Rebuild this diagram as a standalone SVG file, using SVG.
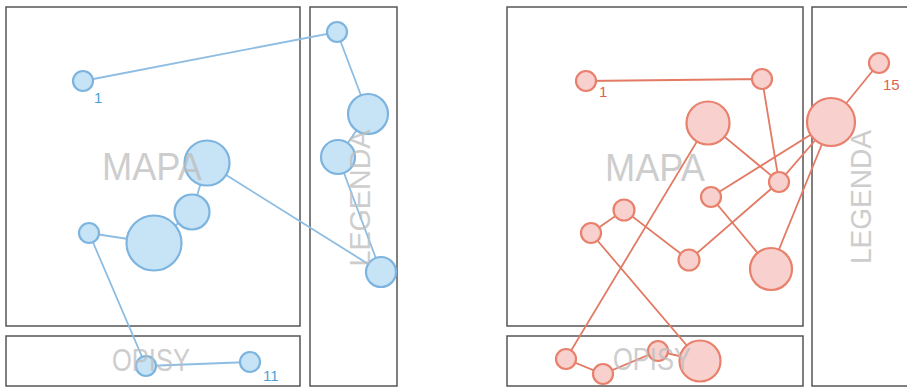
<svg xmlns="http://www.w3.org/2000/svg" width="907" height="387" viewBox="0 0 907 387">
<style>
.panel{fill:none;stroke:#555;stroke-width:1.5}
.lbl{font-family:"Liberation Sans",Arial,sans-serif;fill:#bdbdbd;opacity:0.75;text-anchor:middle}
.bl{stroke:#8dbde3;stroke-width:1.8;fill:none}
.rl{stroke:#e27a64;stroke-width:1.8;fill:none}
.bn{fill:#c6e4f5;stroke:#7db4df;stroke-width:2.2}
.rn{fill:#f8d0cd;stroke:#e8806c;stroke-width:2.2}
.bt{font-family:"Liberation Sans",Arial,sans-serif;font-size:15px;fill:#4a9fd8}
.rt{font-family:"Liberation Sans",Arial,sans-serif;font-size:15px;fill:#d9654c}
</style>
<rect width="907" height="387" fill="#fff"/>
<g id="panels">
<rect class="panel" x="6" y="7" width="294" height="319"/>
<rect class="panel" x="6" y="336" width="294" height="50"/>
<rect class="panel" x="310" y="7" width="87" height="379"/>
<rect class="panel" x="507" y="7" width="296" height="319"/>
<rect class="panel" x="507" y="336" width="296" height="50"/>
<rect class="panel" x="812" y="7" width="110" height="379"/>
</g>
<g id="connectors">
<polyline class="bl" points="83,81 337,32 368,114 338,157 381,272 207,163 192,212 154,243 89,233 146,366 250,362"/>
<polyline class="rl" points="586,81 762,79 779,182 708,123 566,359 603,374 658,351 700,361 591,233 624,210 689,260 779,182 831,122"/>
<line class="rl" x1="711" y1="197" x2="831" y2="122"/>
<line class="rl" x1="711" y1="197" x2="771" y2="269"/>
<line class="rl" x1="771" y1="269" x2="831" y2="122"/>
<line class="rl" x1="831" y1="122" x2="879" y2="63"/>
</g>
<g id="blue-nodes">
<g id="b1"><circle class="bn" cx="83" cy="81" r="10"/></g>
<g id="b2"><circle class="bn" cx="337" cy="32" r="10"/></g>
<g id="b3"><circle class="bn" cx="368" cy="114" r="20"/></g>
<g id="b4"><circle class="bn" cx="338" cy="157" r="17"/></g>
<g id="b5"><circle class="bn" cx="381" cy="272" r="15"/></g>
<g id="b6"><circle class="bn" cx="207" cy="163" r="22.5"/></g>
<g id="b7"><circle class="bn" cx="192" cy="212" r="17.5"/></g>
<g id="b8"><circle class="bn" cx="154" cy="243" r="27.5"/></g>
<g id="b9"><circle class="bn" cx="89" cy="233" r="10"/></g>
<g id="b10"><circle class="bn" cx="146" cy="366" r="10"/></g>
<g id="b11"><circle class="bn" cx="250" cy="362" r="10"/></g>
</g>
<g id="red-nodes">
<g id="r1"><circle class="rn" cx="586" cy="81" r="10"/></g>
<g id="r2"><circle class="rn" cx="762" cy="79" r="10"/></g>
<g id="r3"><circle class="rn" cx="779" cy="182" r="10"/></g>
<g id="r4"><circle class="rn" cx="708" cy="123" r="21.5"/></g>
<g id="r5"><circle class="rn" cx="566" cy="359" r="10"/></g>
<g id="r6"><circle class="rn" cx="603" cy="374" r="10"/></g>
<g id="r7"><circle class="rn" cx="658" cy="351" r="10"/></g>
<g id="r8"><circle class="rn" cx="700" cy="361" r="20.5"/></g>
<g id="r9"><circle class="rn" cx="591" cy="233" r="10"/></g>
<g id="r10"><circle class="rn" cx="624" cy="210" r="10.5"/></g>
<g id="r11"><circle class="rn" cx="689" cy="260" r="10.5"/></g>
<g id="r12"><circle class="rn" cx="831" cy="122" r="24"/></g>
<g id="r13"><circle class="rn" cx="711" cy="197" r="10"/></g>
<g id="r14"><circle class="rn" cx="771" cy="269" r="21"/></g>
<g id="r15"><circle class="rn" cx="879" cy="63" r="10"/></g>
</g>
<g id="labels">
<text class="lbl" x="152" y="180" font-size="38" textLength="100" lengthAdjust="spacingAndGlyphs">MAPA</text>
<text class="lbl" x="151" y="371" font-size="32" textLength="78" lengthAdjust="spacingAndGlyphs">OPISY</text>
<text class="lbl" font-size="30" textLength="137" lengthAdjust="spacingAndGlyphs" transform="translate(370,198) rotate(-90)">LEGENDA</text>
<text class="lbl" x="655" y="181" font-size="38" textLength="100" lengthAdjust="spacingAndGlyphs">MAPA</text>
<text class="lbl" x="652" y="370" font-size="32" textLength="78" lengthAdjust="spacingAndGlyphs">OPISY</text>
<text class="lbl" font-size="30" textLength="134" lengthAdjust="spacingAndGlyphs" transform="translate(871,197) rotate(-90)">LEGENDA</text>
<text class="bt" x="94" y="103">1</text>
<text class="bt" x="263" y="381">11</text>
<text class="rt" x="599" y="97">1</text>
<text class="rt" x="883" y="90">15</text>
</g>
</svg>
